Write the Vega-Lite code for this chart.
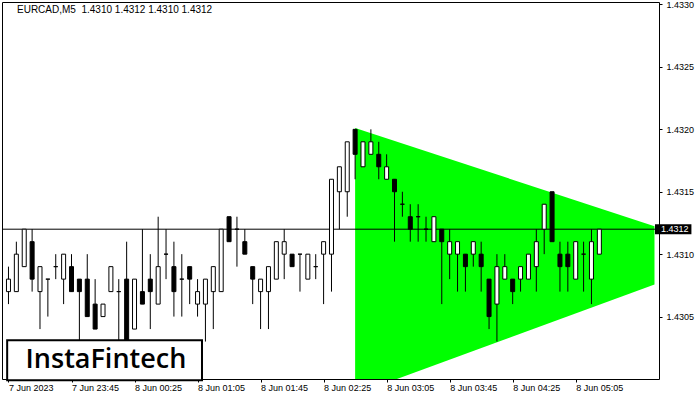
{
  "$schema": "https://vega.github.io/schema/vega-lite/v6.json",
  "width": 657,
  "height": 377,
  "autosize": {"type": "none"},
  "padding": {"left": 2, "top": 2, "right": 41, "bottom": 21},
  "background": "white",
  "title": {
    "text": "EURCAD,M5\u00a0 1.4310 1.4312 1.4310 1.4312",
    "anchor": "start",
    "frame": "group",
    "offset": -15,
    "dx": 15,
    "font": "Liberation Sans",
    "fontSize": 10,
    "fontWeight": "normal",
    "color": "black"
  },
  "config": {
    "view": {"stroke": "black", "strokeWidth": 1},
    "font": "Liberation Sans"
  },
  "datasets": {
    "candles": [
      {"t": "2023-06-07T23:05:00Z", "o": 1.4307, "h": 1.4309, "l": 1.4306, "c": 1.4308},
      {"t": "2023-06-07T23:10:00Z", "o": 1.4307, "h": 1.4311, "l": 1.4307, "c": 1.4310},
      {"t": "2023-06-07T23:15:00Z", "o": 1.4309, "h": 1.4312, "l": 1.4309, "c": 1.4312},
      {"t": "2023-06-07T23:20:00Z", "o": 1.4311, "h": 1.4312, "l": 1.4307, "c": 1.4308},
      {"t": "2023-06-07T23:25:00Z", "o": 1.4307, "h": 1.4309, "l": 1.4304, "c": 1.4309},
      {"t": "2023-06-07T23:30:00Z", "o": 1.4308, "h": 1.4308, "l": 1.4305, "c": 1.4308},
      {"t": "2023-06-07T23:35:00Z", "o": 1.4309, "h": 1.4310, "l": 1.4308, "c": 1.4309},
      {"t": "2023-06-07T23:40:00Z", "o": 1.4308, "h": 1.4310, "l": 1.4306, "c": 1.4310},
      {"t": "2023-06-07T23:45:00Z", "o": 1.4309, "h": 1.4310, "l": 1.4307, "c": 1.4307},
      {"t": "2023-06-07T23:50:00Z", "o": 1.4308, "h": 1.4308, "l": 1.4303, "c": 1.4307},
      {"t": "2023-06-07T23:55:00Z", "o": 1.4308, "h": 1.4310, "l": 1.4305, "c": 1.4305},
      {"t": "2023-06-08T00:00:00Z", "o": 1.4306, "h": 1.4308, "l": 1.4304, "c": 1.4304},
      {"t": "2023-06-08T00:05:00Z", "o": 1.4305, "h": 1.4306, "l": 1.4305, "c": 1.4306},
      {"t": "2023-06-08T00:10:00Z", "o": 1.4307, "h": 1.4309, "l": 1.4307, "c": 1.4309},
      {"t": "2023-06-08T00:15:00Z", "o": 1.4307, "h": 1.4308, "l": 1.4303, "c": 1.4307},
      {"t": "2023-06-08T00:20:00Z", "o": 1.4308, "h": 1.4311, "l": 1.4302, "c": 1.4303},
      {"t": "2023-06-08T00:25:00Z", "o": 1.4304, "h": 1.4308, "l": 1.4304, "c": 1.4308},
      {"t": "2023-06-08T00:30:00Z", "o": 1.4307, "h": 1.4312, "l": 1.4306, "c": 1.4306},
      {"t": "2023-06-08T00:35:00Z", "o": 1.4308, "h": 1.4310, "l": 1.4304, "c": 1.4307},
      {"t": "2023-06-08T00:40:00Z", "o": 1.4306, "h": 1.4313, "l": 1.4306, "c": 1.4309},
      {"t": "2023-06-08T00:45:00Z", "o": 1.4310, "h": 1.4312, "l": 1.4308, "c": 1.4310},
      {"t": "2023-06-08T00:50:00Z", "o": 1.4309, "h": 1.4311, "l": 1.4305, "c": 1.4307},
      {"t": "2023-06-08T00:55:00Z", "o": 1.4308, "h": 1.4310, "l": 1.4305, "c": 1.4308},
      {"t": "2023-06-08T01:00:00Z", "o": 1.4309, "h": 1.4309, "l": 1.4306, "c": 1.4308},
      {"t": "2023-06-08T01:05:00Z", "o": 1.4306, "h": 1.4308, "l": 1.4305, "c": 1.4307},
      {"t": "2023-06-08T01:10:00Z", "o": 1.4306, "h": 1.4308, "l": 1.4303, "c": 1.4308},
      {"t": "2023-06-08T01:15:00Z", "o": 1.4307, "h": 1.4309, "l": 1.4304, "c": 1.4309},
      {"t": "2023-06-08T01:20:00Z", "o": 1.4307, "h": 1.4312, "l": 1.4307, "c": 1.4312},
      {"t": "2023-06-08T01:25:00Z", "o": 1.4313, "h": 1.4313, "l": 1.4311, "c": 1.4311},
      {"t": "2023-06-08T01:30:00Z", "o": 1.4312, "h": 1.4313, "l": 1.4309, "c": 1.4312},
      {"t": "2023-06-08T01:35:00Z", "o": 1.4311, "h": 1.4312, "l": 1.4310, "c": 1.4310},
      {"t": "2023-06-08T01:40:00Z", "o": 1.4309, "h": 1.4309, "l": 1.4306, "c": 1.4308},
      {"t": "2023-06-08T01:45:00Z", "o": 1.4307, "h": 1.4308, "l": 1.4304, "c": 1.4308},
      {"t": "2023-06-08T01:50:00Z", "o": 1.4307, "h": 1.4309, "l": 1.4304, "c": 1.4309},
      {"t": "2023-06-08T01:55:00Z", "o": 1.4308, "h": 1.4311, "l": 1.4308, "c": 1.4311},
      {"t": "2023-06-08T02:00:00Z", "o": 1.4310, "h": 1.4312, "l": 1.4308, "c": 1.4311},
      {"t": "2023-06-08T02:05:00Z", "o": 1.4310, "h": 1.4310, "l": 1.4309, "c": 1.4309},
      {"t": "2023-06-08T02:10:00Z", "o": 1.4310, "h": 1.4310, "l": 1.4307, "c": 1.4310},
      {"t": "2023-06-08T02:15:00Z", "o": 1.4308, "h": 1.4310, "l": 1.4308, "c": 1.4310},
      {"t": "2023-06-08T02:20:00Z", "o": 1.4309, "h": 1.4310, "l": 1.4308, "c": 1.4309},
      {"t": "2023-06-08T02:25:00Z", "o": 1.4310, "h": 1.4311, "l": 1.4306, "c": 1.4311},
      {"t": "2023-06-08T02:30:00Z", "o": 1.4310, "h": 1.4316, "l": 1.4307, "c": 1.4316},
      {"t": "2023-06-08T02:35:00Z", "o": 1.4315, "h": 1.4317, "l": 1.4312, "c": 1.4317},
      {"t": "2023-06-08T02:40:00Z", "o": 1.4315, "h": 1.4319, "l": 1.4313, "c": 1.4319},
      {"t": "2023-06-08T02:45:00Z", "o": 1.4320, "h": 1.4320, "l": 1.4316, "c": 1.4318},
      {"t": "2023-06-08T02:50:00Z", "o": 1.4317, "h": 1.4319, "l": 1.4317, "c": 1.4319},
      {"t": "2023-06-08T02:55:00Z", "o": 1.4318, "h": 1.4320, "l": 1.4318, "c": 1.4319},
      {"t": "2023-06-08T03:00:00Z", "o": 1.4318, "h": 1.4319, "l": 1.4316, "c": 1.4317},
      {"t": "2023-06-08T03:05:00Z", "o": 1.4316, "h": 1.4318, "l": 1.4316, "c": 1.4317},
      {"t": "2023-06-08T03:10:00Z", "o": 1.4316, "h": 1.4316, "l": 1.4311, "c": 1.4315},
      {"t": "2023-06-08T03:15:00Z", "o": 1.4314, "h": 1.4315, "l": 1.4313, "c": 1.4314},
      {"t": "2023-06-08T03:20:00Z", "o": 1.4313, "h": 1.4314, "l": 1.4311, "c": 1.4312},
      {"t": "2023-06-08T03:25:00Z", "o": 1.4313, "h": 1.4314, "l": 1.4311, "c": 1.4313},
      {"t": "2023-06-08T03:30:00Z", "o": 1.4312, "h": 1.4313, "l": 1.4311, "c": 1.4312},
      {"t": "2023-06-08T03:35:00Z", "o": 1.4311, "h": 1.4313, "l": 1.4311, "c": 1.4313},
      {"t": "2023-06-08T03:40:00Z", "o": 1.4312, "h": 1.4312, "l": 1.4306, "c": 1.4311},
      {"t": "2023-06-08T03:45:00Z", "o": 1.4310, "h": 1.4312, "l": 1.4308, "c": 1.4311},
      {"t": "2023-06-08T03:50:00Z", "o": 1.4310, "h": 1.4311, "l": 1.4307, "c": 1.4311},
      {"t": "2023-06-08T03:55:00Z", "o": 1.4310, "h": 1.4310, "l": 1.4307, "c": 1.4309},
      {"t": "2023-06-08T04:00:00Z", "o": 1.4310, "h": 1.4311, "l": 1.4309, "c": 1.4311},
      {"t": "2023-06-08T04:05:00Z", "o": 1.4310, "h": 1.4311, "l": 1.4307, "c": 1.4309},
      {"t": "2023-06-08T04:10:00Z", "o": 1.4308, "h": 1.4308, "l": 1.4304, "c": 1.4305},
      {"t": "2023-06-08T04:15:00Z", "o": 1.4306, "h": 1.4310, "l": 1.4303, "c": 1.4309},
      {"t": "2023-06-08T04:20:00Z", "o": 1.4308, "h": 1.4310, "l": 1.4308, "c": 1.4309},
      {"t": "2023-06-08T04:25:00Z", "o": 1.4308, "h": 1.4308, "l": 1.4306, "c": 1.4307},
      {"t": "2023-06-08T04:30:00Z", "o": 1.4308, "h": 1.4309, "l": 1.4307, "c": 1.4309},
      {"t": "2023-06-08T04:35:00Z", "o": 1.4308, "h": 1.4310, "l": 1.4308, "c": 1.4310},
      {"t": "2023-06-08T04:40:00Z", "o": 1.4309, "h": 1.4312, "l": 1.4307, "c": 1.4311},
      {"t": "2023-06-08T04:45:00Z", "o": 1.4312, "h": 1.4314, "l": 1.4310, "c": 1.4314},
      {"t": "2023-06-08T04:50:00Z", "o": 1.4315, "h": 1.4315, "l": 1.4311, "c": 1.4311},
      {"t": "2023-06-08T04:55:00Z", "o": 1.4310, "h": 1.4311, "l": 1.4307, "c": 1.4309},
      {"t": "2023-06-08T05:00:00Z", "o": 1.4310, "h": 1.4311, "l": 1.4307, "c": 1.4309},
      {"t": "2023-06-08T05:05:00Z", "o": 1.4308, "h": 1.4311, "l": 1.4308, "c": 1.4311},
      {"t": "2023-06-08T05:10:00Z", "o": 1.4310, "h": 1.4311, "l": 1.4307, "c": 1.4310},
      {"t": "2023-06-08T05:15:00Z", "o": 1.4308, "h": 1.4312, "l": 1.4306, "c": 1.4311},
      {"t": "2023-06-08T05:20:00Z", "o": 1.4310, "h": 1.4312, "l": 1.4310, "c": 1.4312}
    ],
    "triangle": [
      {"t": "2023-06-08T02:45:00Z", "upper": 1.43201, "lower": 1.429877},
      {"t": "2023-06-08T05:55:00Z", "upper": 1.431224, "lower": 1.430757}
    ],
    "last": [
      {"price": 1.4312, "label": "1.4312"}
    ]
  },
  "layer": [
    {
      "data": {"name": "triangle"},
      "mark": {"type": "area", "color": "#00FF00", "clip": true, "opacity": 1},
      "encoding": {
        "x": {
          "field": "t",
          "type": "temporal",
          "title": null,
          "scale": {
            "type": "utc",
            "domain": [
              {"year": 2023, "month": 6, "date": 7, "hours": 23, "minutes": 4, "seconds": 3, "milliseconds": 750, "utc": true},
              {"year": 2023, "month": 6, "date": 8, "hours": 5, "minutes": 54, "seconds": 41, "milliseconds": 250, "utc": true}
            ]
          },
          "axis": {
            "values": [
              {"year": 2023, "month": 6, "date": 7, "hours": 23, "minutes": 5, "utc": true},
              {"year": 2023, "month": 6, "date": 7, "hours": 23, "minutes": 45, "utc": true},
              {"year": 2023, "month": 6, "date": 8, "hours": 0, "minutes": 25, "utc": true},
              {"year": 2023, "month": 6, "date": 8, "hours": 1, "minutes": 5, "utc": true},
              {"year": 2023, "month": 6, "date": 8, "hours": 1, "minutes": 45, "utc": true},
              {"year": 2023, "month": 6, "date": 8, "hours": 2, "minutes": 25, "utc": true},
              {"year": 2023, "month": 6, "date": 8, "hours": 3, "minutes": 5, "utc": true},
              {"year": 2023, "month": 6, "date": 8, "hours": 3, "minutes": 45, "utc": true},
              {"year": 2023, "month": 6, "date": 8, "hours": 4, "minutes": 25, "utc": true},
              {"year": 2023, "month": 6, "date": 8, "hours": 5, "minutes": 5, "utc": true}
            ],
            "labelExpr": "utcFormat(datum.value, '%H:%M') == '23:05' ? '7 Jun 2023' : utcFormat(datum.value, '%-d %b %H:%M')",
            "labelAlign": "left",
            "labelBaseline": "top",
            "labelFlush": false,
            "labelOverlap": false,
            "labelPadding": 1,
            "labelFont": "Liberation Sans",
            "labelFontSize": 9,
            "labelColor": "black",
            "tickColor": "black",
            "tickSize": 3,
            "domain": false,
            "grid": false
          }
        },
        "y": {
          "field": "upper",
          "type": "quantitative",
          "title": null,
          "scale": {"domain": [1.43, 1.43302], "zero": false, "nice": false},
          "axis": {
            "orient": "right",
            "values": [1.4305, 1.431, 1.4315, 1.432, 1.4325, 1.433],
            "format": ".4f",
            "labelAlign": "left",
            "labelPadding": 4,
            "labelFont": "Liberation Sans",
            "labelFontSize": 9,
            "labelColor": "black",
            "tickColor": "black",
            "tickSize": 3,
            "domain": false,
            "grid": false
          }
        },
        "y2": {"field": "lower"}
      }
    },
    {
      "data": {"name": "last"},
      "mark": {"type": "rule", "color": "black", "strokeWidth": 1},
      "encoding": {
        "y": {"field": "price", "type": "quantitative", "title": null}
      }
    },
    {
      "data": {"name": "candles"},
      "mark": {"type": "rule", "color": "black", "strokeWidth": 1},
      "encoding": {
        "x": {"field": "t", "type": "temporal", "title": null},
        "y": {"field": "l", "type": "quantitative", "title": null},
        "y2": {"field": "h"}
      }
    },
    {
      "data": {"name": "candles"},
      "mark": {"type": "bar", "width": 4, "stroke": "black", "strokeWidth": 1},
      "encoding": {
        "x": {"field": "t", "type": "temporal", "title": null},
        "y": {"field": "o", "type": "quantitative", "title": null},
        "y2": {"field": "c"},
        "fill": {
          "condition": {"test": "datum.c >= datum.o", "value": "white"},
          "value": "black"
        }
      }
    },
    {
      "data": {"values": [{"brand": "InstaFintech"}]},
      "mark": {"type": "rect", "fill": "white", "stroke": "black", "strokeWidth": 2},
      "encoding": {
        "x": {"datum": {"year": 2023, "month": 6, "date": 7, "hours": 23, "minutes": 4, "seconds": 10, "utc": true}, "type": "temporal"},
        "x2": {"datum": {"year": 2023, "month": 6, "date": 8, "hours": 1, "minutes": 7, "seconds": 49, "utc": true}},
        "y": {"datum": 1.43031, "type": "quantitative"},
        "y2": {"datum": 1.42999}
      }
    },
    {
      "data": {"values": [{"brand": "InstaFintech"}]},
      "mark": {"type": "text", "font": "Open Sans", "fontSize": 27, "fontWeight": 600, "color": "black", "align": "center", "baseline": "middle"},
      "encoding": {
        "x": {"datum": {"year": 2023, "month": 6, "date": 8, "hours": 0, "minutes": 6, "seconds": 52, "utc": true}, "type": "temporal"},
        "y": {"datum": 1.43015, "type": "quantitative"},
        "text": {"field": "brand"}
      }
    },
    {
      "data": {"name": "last"},
      "mark": {"type": "rect", "fill": "black"},
      "encoding": {
        "x": {"datum": {"year": 2023, "month": 6, "date": 8, "hours": 5, "minutes": 55, "seconds": 19, "utc": true}, "type": "temporal"},
        "x2": {"datum": {"year": 2023, "month": 6, "date": 8, "hours": 6, "minutes": 18, "seconds": 26, "utc": true}},
        "y": {"datum": 1.43124, "type": "quantitative"},
        "y2": {"datum": 1.43116}
      }
    },
    {
      "data": {"name": "last"},
      "mark": {"type": "text", "font": "Liberation Sans", "fontSize": 9, "color": "white", "align": "left", "baseline": "middle"},
      "encoding": {
        "x": {"datum": {"year": 2023, "month": 6, "date": 8, "hours": 5, "minutes": 59, "seconds": 4, "utc": true}, "type": "temporal"},
        "y": {"field": "price", "type": "quantitative"},
        "text": {"field": "label"}
      }
    }
  ]
}
